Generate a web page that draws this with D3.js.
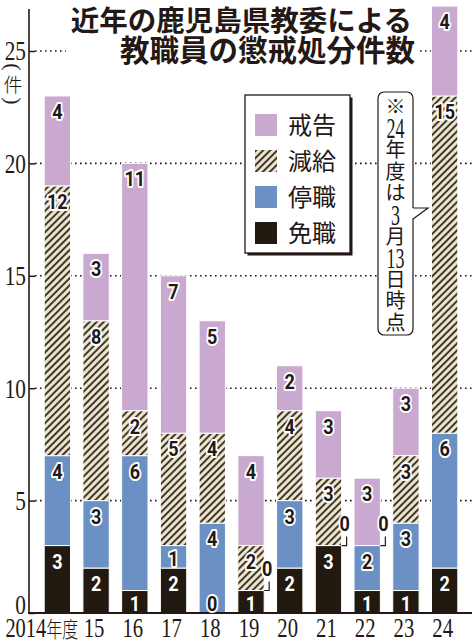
<!DOCTYPE html>
<html>
<head>
<meta charset="utf-8">
<script src="https://cdn.jsdelivr.net/npm/d3@7"></script>
<style>
  body { margin: 0; background: #fff; }
  svg { display: block; }
</style>
</head>
<body>
<svg></svg>
<script>
// 年度ごとの処分件数（読み取り値）
const years = ["2014", "15", "16", "17", "18", "19", "20", "21", "22", "23", "24"];
const menshoku = [3, 2, 1, 2, 0, 1, 2, 3, 1, 1, 2];   // 免職
const teishoku = [4, 3, 6, 1, 4, 0, 3, 0, 2, 3, 6];   // 停職
const genkyu = [12, 8, 2, 5, 4, 2, 4, 3, 0, 3, 15];   // 減給
const kaikoku = [4, 3, 11, 7, 5, 4, 2, 3, 3, 3, 4];   // 戒告
const seriesNames = ["免職", "停職", "減給", "戒告"];
const yTicks = [0, 5, 10, 15, 20, 25];
const titleLines = ["近年の鹿児島県教委による", "教職員の懲戒処分件数"];
const noteGlyphs = ["※", "24", "年", "度", "は", "3", "月", "13", "日", "時", "点"];

const ink = "#231815";
const sansJP = "'Noto Sans CJK JP', 'Noto Sans', sans-serif";
const serif = "'Liberation Serif', 'DejaVu Serif', serif";
const numFont = "Roboto, 'Liberation Sans', sans-serif";

const colors = {
  "免職": "#221a10",
  "停職": "#6a90c4",
  "減給": "url(#hatch)",
  "戒告": "#c9a9cf",
};

const svg = d3.select("svg");
svg.attr("width", 472);
svg.attr("height", 640);

const table = years.map((yr, i) => ({
  year: yr,
  "免職": menshoku[i],
  "停職": teishoku[i],
  "減給": genkyu[i],
  "戒告": kaikoku[i],
}));

// 斜線パターン
const defs = svg.append("defs");
const pat = defs.append("pattern")
  .attr("id", "hatch")
  .attr("patternUnits", "userSpaceOnUse")
  .attr("width", 5)
  .attr("height", 5)
  .attr("patternTransform", "rotate(45)");
pat.append("rect").attr("width", 5).attr("height", 5).attr("fill", "#ebe5cb");
pat.append("line")
  .attr("x1", 1).attr("x2", 1).attr("y1", 0).attr("y2", 5)
  .attr("stroke", ink).attr("stroke-width", 1.7);

const x = d3.scaleBand()
  .domain(years)
  .range([38, 464])
  .paddingInner(0.32)
  .paddingOuter(0.16);

const y = d3.scaleLinear().domain([0, 25]).range([613, 51]);

// 点線の目盛り線
svg.append("g")
  .selectAll("line")
  .data(yTicks.filter((d) => d > 0))
  .join("line")
  .attr("x1", 35)
  .attr("x2", 472)
  .attr("y1", (d) => y(d))
  .attr("y2", (d) => y(d))
  .attr("stroke", ink)
  .attr("stroke-width", 1.6)
  .attr("stroke-dasharray", "1.6,3.4");

// 積み上げ棒
const series = d3.stack().keys(seriesNames)(table);

const barG = svg.append("g");
barG.selectAll("g")
  .data(series)
  .join("g")
  .attr("fill", (s) => colors[s.key])
  .selectAll("rect")
  .data((s) => s)
  .join("rect")
  .attr("x", (d) => x(d.data.year))
  .attr("width", x.bandwidth())
  .attr("y", (d) => y(d[1]))
  .attr("height", (d) => y(d[0]) - y(d[1]))
  .attr("stroke", "#fff")
  .attr("stroke-width", 1);

// タイトル
const titleG = svg.append("g");
const titleBg = titleG.append("rect").attr("fill", "#fff");
titleG.selectAll("text")
  .data(titleLines)
  .join("text")
  .attr("x", (d, i) => (i === 0 ? 412 : 415))
  .attr("y", (d, i) => (i === 0 ? 31 : 61))
  .attr("text-anchor", "end")
  .attr("font-family", sansJP)
  .attr("font-weight", 700)
  .attr("font-size", (d, i) => (i === 0 ? 28.5 : 29.5))
  .attr("fill", ink)
  .text((d) => d);
const tb = titleG.node().getBBox();
titleBg
  .attr("x", tb.x - 5)
  .attr("y", tb.y)
  .attr("width", tb.width + 10)
  .attr("height", tb.height + 4);

// 凡例
const legendG = svg.append("g");
legendG.append("rect")
  .attr("x", 247.5).attr("y", 97.5).attr("width", 105).attr("height", 158)
  .attr("fill", ink);
legendG.append("rect")
  .attr("x", 245).attr("y", 95).attr("width", 105).attr("height", 158)
  .attr("fill", "#fff").attr("stroke", ink).attr("stroke-width", 1.3);
const legendItems = legendG.selectAll("g")
  .data(seriesNames.slice().reverse())
  .join("g")
  .attr("transform", (d, i) => `translate(255, ${114 + i * 36})`);
legendItems.append("rect")
  .attr("width", 22).attr("height", 22)
  .attr("fill", (d) => colors[d]);
legendItems.append("text")
  .attr("x", 33)
  .attr("y", 19.5)
  .attr("font-family", sansJP)
  .attr("font-weight", 400)
  .attr("font-size", 24)
  .attr("fill", ink)
  .text((d) => d);

// 注記
const noteG = svg.append("g");
noteG.append("rect")
  .attr("x", 378).attr("y", 92).attr("width", 35).attr("height", 243)
  .attr("rx", 6)
  .attr("fill", "#fff").attr("stroke", ink).attr("stroke-width", 1.2);
noteG.append("path")
  .attr("d", "M412,208 L428,208 L412,219 Z")
  .attr("fill", "#fff");
noteG.append("path")
  .attr("d", "M413,208 L428,208 L413,219")
  .attr("fill", "none").attr("stroke", ink).attr("stroke-width", 1.2);
const noteY = d3.scalePoint().domain(d3.range(noteGlyphs.length)).range([107, 323]);
const isNum = (d) => /\d/.test(d);
noteG.selectAll("text")
  .data(noteGlyphs)
  .join("text")
  .attr("transform", (d, i) =>
    isNum(d)
      ? `translate(395.5, ${noteY(i) + 9.5}) scale(0.62, 1)`
      : `translate(395.5, ${noteY(i) + 7})`)
  .attr("text-anchor", "middle")
  .attr("font-family", (d) => (isNum(d) ? serif : sansJP))
  .attr("font-weight", 400)
  .attr("font-size", (d) => (isNum(d) ? 29 : 20))
  .attr("fill", ink)
  .text((d) => d);

// 軸
const yAxisG = svg.append("g")
  .attr("transform", "translate(29, 0)")
  .attr("color", ink)
  .call(d3.axisLeft(y).tickValues(yTicks).tickSize(-6).tickPadding(4));
yAxisG.select(".domain").remove();
yAxisG.selectAll(".tick line").attr("stroke-width", 1.5);
yAxisG.selectAll(".tick text")
  .attr("font-family", serif)
  .attr("font-size", 28)
  .attr("fill", ink)
  .attr("dy", (d) => (d === 0 ? "0em" : "0.32em"))
  .attr("transform", "scale(0.76, 1)");

svg.append("line")
  .attr("x1", 29).attr("x2", 29).attr("y1", 9).attr("y2", 614)
  .attr("stroke", ink).attr("stroke-width", 1.6);
svg.append("line")
  .attr("x1", 28).attr("x2", 472).attr("y1", 613).attr("y2", 613)
  .attr("stroke", ink).attr("stroke-width", 2);

// 単位（縦書き）
const unitG = svg.append("g").attr("fill", ink);
unitG.append("text")
  .attr("transform", "translate(13, 67) rotate(90)")
  .attr("text-anchor", "middle")
  .attr("dy", "0.3em")
  .attr("font-family", serif)
  .attr("font-size", 22)
  .text("(");
unitG.append("text")
  .attr("x", 13)
  .attr("y", 92)
  .attr("text-anchor", "middle")
  .attr("font-family", sansJP)
  .attr("font-weight", 300)
  .attr("font-size", 19)
  .text("件");
unitG.append("text")
  .attr("transform", "translate(13, 101) rotate(90)")
  .attr("text-anchor", "middle")
  .attr("dy", "0.3em")
  .attr("font-family", serif)
  .attr("font-size", 22)
  .text(")");

// 年度ラベル
const xLabels = svg.append("g")
  .selectAll("text")
  .data(years)
  .join("text")
  .attr("transform", (d, i) => {
    const cx = x(d) + x.bandwidth() / 2;
    return i === 0
      ? `translate(${cx + 21}, 637) scale(0.73, 1)`
      : `translate(${cx - 2}, 637) scale(0.74, 1)`;
  })
  .attr("text-anchor", (d, i) => (i === 0 ? "end" : "middle"))
  .attr("font-family", serif)
  .attr("font-size", 28)
  .attr("fill", ink);
xLabels.append("tspan").text((d) => d);
xLabels.filter((d, i) => i === 0)
  .append("tspan")
  .attr("font-family", sansJP)
  .attr("font-weight", 300)
  .attr("font-size", 22)
  .text("年度");

// 数値ラベル
const labelData = [];
series.forEach((s) => {
  s.forEach((d) => {
    const v = d.data[s.key];
    const top = y(d[1]);
    const bottom = y(d[0]);
    const cx = x(d.data.year) + x.bandwidth() / 2;
    const right = x(d.data.year) + x.bandwidth();
    if (v === 0 && s.key !== "免職") {
      labelData.push({ v, key: s.key, lx: right + 3, ly: top - 15, leader: { right, top } });
    } else {
      labelData.push({ v, key: s.key, lx: cx, ly: Math.min(top + 23, bottom - 2) });
    }
  });
});

const labelG = svg.append("g");
labelG.selectAll("path")
  .data(labelData.filter((d) => d.leader))
  .join("path")
  .attr("d", (d) => `M${d.leader.right},${d.leader.top} H${d.leader.right + 5} V${d.leader.top - 9}`)
  .attr("fill", "none")
  .attr("stroke", ink)
  .attr("stroke-width", 1.2);

labelG.selectAll("text")
  .data(labelData)
  .join("text")
  .attr("transform", (d) => `translate(${d.lx}, ${d.ly}) scale(0.86, 1)`)
  .attr("text-anchor", "middle")
  .attr("font-family", numFont)
  .attr("font-weight", 700)
  .attr("font-size", 21)
  .attr("fill", (d) => (d.key === "免職" && d.v > 0 ? "#fff" : ink))
  .attr("stroke", (d) => (d.key === "免職" && d.v > 0 ? "none" : "#fff"))
  .attr("stroke-width", 4)
  .attr("stroke-linejoin", "round")
  .attr("paint-order", "stroke")
  .text((d) => d.v);
</script>
</body>
</html>
